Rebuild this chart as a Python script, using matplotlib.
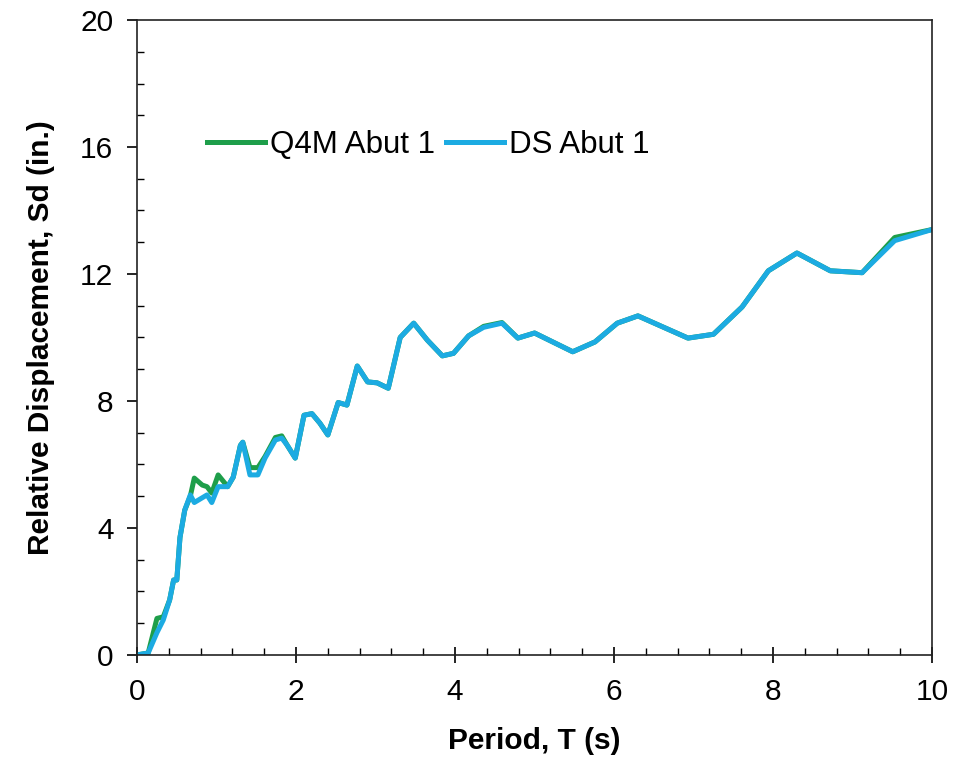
import numpy as np
import matplotlib
matplotlib.use('Agg')
from matplotlib import pyplot as plt
from matplotlib.ticker import MultipleLocator

# Period (s)
period = [0.0, 0.14, 0.25, 0.33, 0.41, 0.46, 0.5, 0.54, 0.6, 0.67, 0.72, 0.82, 0.88,
          0.94, 1.02, 1.14, 1.21, 1.3, 1.33, 1.42, 1.52, 1.61, 1.74, 1.82, 1.89, 1.99,
          2.1, 2.2, 2.3, 2.4, 2.53, 2.64, 2.77, 2.9, 3.02, 3.16, 3.31, 3.48, 3.65, 3.84,
          3.98, 4.17, 4.36, 4.59, 4.79, 5.0, 5.48, 5.76, 6.04, 6.3, 6.93, 7.25, 7.61,
          7.94, 8.3, 8.72, 9.12, 9.53, 10.0]

# Relative displacement (in.)
q4m_abut1 = [0.0, 0.06, 1.15, 1.2, 1.73, 2.36, 2.36, 3.7, 4.56, 5.0, 5.57, 5.35, 5.3,
             5.1, 5.67, 5.3, 5.6, 6.6, 6.7, 5.9, 5.9, 6.25, 6.85, 6.9, 6.6, 6.2,
             7.55, 7.6, 7.3, 6.93, 7.95, 7.87, 9.1, 8.6, 8.57, 8.4, 10.0, 10.45, 9.92, 9.42,
             9.5, 10.05, 10.35, 10.47, 9.98, 10.14, 9.55, 9.86, 10.45, 10.68, 9.98, 10.1, 10.96,
             12.1, 12.66, 12.1, 12.04, 13.15, 13.4]
ds_abut1 = [0.0, 0.06, 0.7, 1.1, 1.73, 2.36, 2.36, 3.7, 4.56, 5.04, 4.8, 4.95, 5.04,
            4.8, 5.3, 5.3, 5.6, 6.6, 6.7, 5.67, 5.67, 6.2, 6.77, 6.83, 6.6, 6.2,
            7.55, 7.6, 7.3, 6.93, 7.95, 7.87, 9.1, 8.6, 8.57, 8.4, 10.0, 10.45, 9.92, 9.42,
            9.5, 10.05, 10.32, 10.45, 9.98, 10.14, 9.55, 9.86, 10.45, 10.68, 9.98, 10.1, 10.96,
            12.1, 12.66, 12.1, 12.04, 13.05, 13.4]

plt.rcParams['font.family'] = ['Liberation Sans', 'DejaVu Sans']

fig = plt.figure(figsize=(9.55, 7.58), dpi=100)
ax = fig.add_axes([0.1435, 0.136, 0.8325, 0.8376])

ax.plot(period, q4m_abut1, color='#1E9E4A', lw=3.6, label='Q4M Abut 1')
ax.plot(period, ds_abut1, color='#1CABE2', lw=3.6, label='DS Abut 1')

ax.set_xlim(0, 10)
ax.set_ylim(0, 20)
ax.xaxis.set_major_locator(MultipleLocator(2))
ax.xaxis.set_minor_locator(MultipleLocator(0.4))
ax.yaxis.set_major_locator(MultipleLocator(4))
ax.yaxis.set_minor_locator(MultipleLocator(1))

ax.tick_params(axis='x', which='major', direction='inout', length=11, width=1.2,
               labelsize=21.5, pad=11)
ax.tick_params(axis='x', which='minor', direction='in', length=5, width=1)
ax.tick_params(axis='y', which='major', direction='out', length=7, width=1.2,
               labelsize=21.5, pad=10)
ax.tick_params(axis='y', which='minor', direction='in', length=5, width=1)
for s in ax.spines.values():
    s.set_linewidth(1.2)
    s.set_color('#222222')

ax.set_xlabel('Period, T (s)', fontsize=21.5, fontweight='bold', labelpad=15)
ax.set_ylabel('Relative Displacement, Sd (in.)', fontsize=21.5, fontweight='bold', labelpad=18)

ax.legend(loc='center left', bbox_to_anchor=(0.088, 0.803), ncol=2, frameon=False,
          fontsize=22.5, handlelength=1.85, handletextpad=0.17, columnspacing=0.35,
          borderpad=0, borderaxespad=0)

fig.savefig('out.png', dpi=100)
